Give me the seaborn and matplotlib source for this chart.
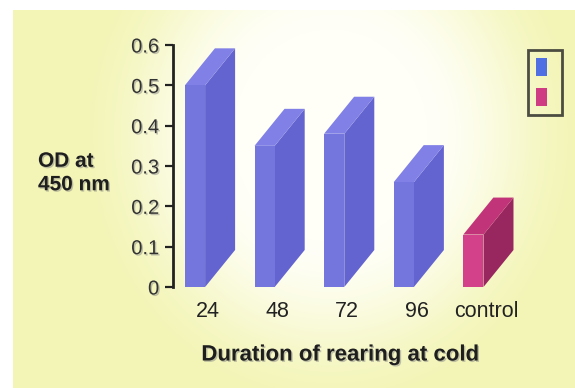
import numpy as np
import pandas as pd
import matplotlib
matplotlib.use("Agg")
import matplotlib.pyplot as plt
import matplotlib.patheffects as pe
from matplotlib.patches import Patch, Polygon
from matplotlib.colors import to_rgb
from matplotlib.transforms import ScaledTranslation
import seaborn as sns

# ---- data ----
hours = ["24", "48", "72", "96", "control"]
od_450 = [0.50, 0.35, 0.38, 0.26, 0.13]
group = ["cold", "cold", "cold", "cold", "control"]
y_ticks = [0, 0.1, 0.2, 0.3, 0.4, 0.5, 0.6]
y_tick_labels = ["0", "0.1", "0.2", "0.3", "0.4", "0.5", "0.6"]

# face colours of the pseudo-3D blocks
front = {"cold": "#7575de", "control": "#d2418a"}
side = {"cold": "#6464d0", "control": "#98275f"}
top = {"cold": "#8080e6", "control": "#c23479"}
legend_colors = ["#4f6fe2", "#cf3c83"]

plt.rcParams["font.family"] = ["Liberation Sans", "DejaVu Sans"]

df = pd.DataFrame({"hours": hours, "od": od_450, "group": group})

W, H = 575, 388
fig = plt.figure(figsize=(W / 100, H / 100), dpi=100)
fig.patch.set_facecolor("white")

# soft yellow backdrop with a pale centre
bg = fig.add_axes([13 / W, 0, (W - 13) / W, (H - 10) / H], zorder=-10)
yy, xx = np.mgrid[10:H, 13:W]
t = np.sqrt(((xx - 330) / 215.0) ** 2 + ((yy - 135) / 235.0) ** 2)
m = np.clip((t - 0.45) / 0.75, 0, 1)
m = m * m * (3 - 2 * m)
yellow = np.array(to_rgb("#f3f5b6"))
img = (1 - m[..., None]) * np.array([1.0, 1.0, 0.97]) + m[..., None] * yellow
bg.imshow(img, aspect="auto", extent=[0, 1, 0, 1], origin="upper")
bg.set_axis_off()

# plotting area
x0_px, step_px = 195.0, 69.6
left_px, zero_px, top_px = 173, 287, 45
xlim = (-(x0_px - left_px) / step_px, 5.0)
right_px = x0_px + xlim[1] * step_px
ax = fig.add_axes([left_px / W, (H - zero_px) / H,
                   (right_px - left_px) / W, (zero_px - top_px) / H])
ax.patch.set_alpha(0)

sns.barplot(data=df, x="hours", y="od", hue="group", palette=front,
            dodge=False, width=0.29, saturation=1, legend=False, ax=ax,
            order=hours, linewidth=0)
ax.set_xlim(*xlim)
ax.set_ylim(0, 0.6)

# depth of the blocks, expressed in data units
depth_px = (30.0, 37.0)
p0 = ax.transData.transform((0, 0))
p1 = ax.transData.transform((1, 1))
dx = depth_px[0] / (p1[0] - p0[0])
dy = depth_px[1] / (p1[1] - p0[1])

for bar in list(ax.patches):
    x0 = bar.get_x()
    w = bar.get_width()
    h = bar.get_height()
    if h <= 0:
        continue
    g = group[int(round(x0 + w / 2))]
    x1 = x0 + w
    side_poly = Polygon([(x1, 0), (x1 + dx, dy), (x1 + dx, h + dy), (x1, h)],
                        closed=True, facecolor=side[g], edgecolor="none",
                        clip_on=False, zorder=2)
    top_poly = Polygon([(x0, h), (x1, h), (x1 + dx, h + dy), (x0 + dx, h + dy)],
                       closed=True, facecolor=top[g], edgecolor="none",
                       clip_on=False, zorder=2)
    ax.add_patch(side_poly)
    ax.add_patch(top_poly)
    bar.set_zorder(3)
    bar.set_clip_on(False)

# axes styling
for s in ["top", "right", "bottom"]:
    ax.spines[s].set_visible(False)
ax.spines["left"].set_linewidth(2)
ax.spines["left"].set_color("#222222")
ax.set_yticks(y_ticks)
ax.set_yticklabels(y_tick_labels)
ax.tick_params(axis="y", direction="out", length=6, width=1.6, color="#222222",
               labelsize=14.5, labelcolor="#333333", pad=4)
ax.tick_params(axis="x", length=0, labelsize=15.5, labelcolor="#222222", pad=10)

shadow = [pe.withSimplePatchShadow(offset=(1, -1), shadow_rgbFace="#888888", alpha=0.5)]
for lab in ax.get_yticklabels():
    lab.set_path_effects(shadow)

shift = ScaledTranslation(13 / 100, 0, fig.dpi_scale_trans)
for lab in ax.get_xticklabels():
    lab.set_transform(lab.get_transform() + shift)

ax.set_xlabel("Duration of rearing at cold", fontsize=16, fontweight="bold",
              color="#1e1e1e", path_effects=shadow)
ax.xaxis.set_label_coords((340 - left_px) / (right_px - left_px),
                          (zero_px - 355) / (zero_px - top_px))
ax.xaxis.label.set_va("center")

ax.set_ylabel("OD at\n450 nm", rotation=0, fontsize=15, fontweight="bold",
              color="#1e1e1e", ha="left", va="center", linespacing=1.3,
              path_effects=shadow)
ax.yaxis.set_label_coords((38 - left_px) / (right_px - left_px),
                          (zero_px - 173) / (zero_px - top_px))

# legend box with the two colour keys
handles = [Patch(facecolor=c, edgecolor="none") for c in legend_colors]
leg = fig.legend(handles, ["", ""], loc="upper left",
                 bbox_to_anchor=(528 / W, 1 - 50 / H), frameon=True,
                 fancybox=False, fontsize=10, handlelength=0.8,
                 handleheight=1.62, labelspacing=0.85, handletextpad=0.45,
                 borderpad=0.6, borderaxespad=0)
fr = leg.get_frame()
fr.set_facecolor("none")
fr.set_edgecolor("#222222")
fr.set_linewidth(2)

fig.savefig("out.png", dpi=100)
